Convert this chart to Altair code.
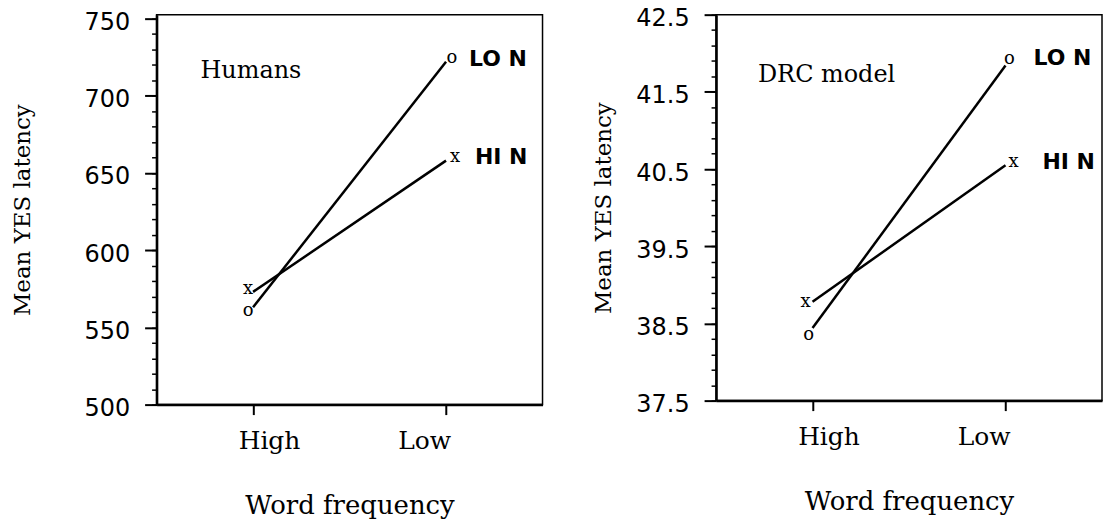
import altair as alt
import pandas as pd

# ---- data ----
freq = ["High", "Low"]
series = ["HI N", "LO N"]
markers = ["x", "o"]

humans_hi = [573, 658]
humans_lo = [563, 722]
drc_hi = [38.78, 40.55]
drc_lo = [38.44, 41.84]

humans_ticks = [500, 550, 600, 650, 700, 750]
humans_minor = list(range(500, 751, 10))
drc_ticks = [37.5, 38.5, 39.5, 40.5, 41.5, 42.5]
drc_minor = [round(37.5 + 0.2 * i, 1) for i in range(26)]

SERIF = "DejaVu Serif"
SANS = "DejaVu Sans"


def make_panel(label, label_xy, hi, lo, domain, ticks, minor, fmt, height,
               title_x, marker_off, label_off):
    df = pd.DataFrame({
        "freq": freq + freq,
        "value": hi + lo,
        "series": [series[0]] * 2 + [series[1]] * 2,
        "marker": [markers[0]] * 2 + [markers[1]] * 2,
    })
    xscale = alt.Scale(type="point", domain=freq, padding=0.5)
    xaxis = alt.Axis(
        orient="bottom", grid=False, domain=True, domainColor="black", domainWidth=2.5,
        ticks=True, tickSize=10, tickWidth=2, tickColor="black",
        labelFont=SERIF, labelFontSize=25, labelColor="black", labelAngle=0,
        labelBaseline="alphabetic", labelPadding=34,
        labelOffset={"condition": {"test": "datum.value == 'High'", "value": 16}, "value": -22},
        title="Word frequency", titleFont=SERIF, titleFontSize=26, titleFontWeight="normal",
        titleColor="black", titleBaseline="alphabetic", titleY=109,
    )
    x = alt.X("freq:N", scale=xscale, axis=xaxis)
    yscale = alt.Scale(domain=domain, nice=False, zero=False)
    yaxis = alt.Axis(
        orient="left", values=ticks, format=fmt, grid=False,
        domain=True, domainColor="black", domainWidth=2.5,
        ticks=True, tickSize=12, tickWidth=2, tickColor="black",
        labelFont=SANS, labelFontSize=24, labelColor="black", labelPadding=15,
        labelOffset=4, labelFlush=False, labelOverlap=False,
        title="Mean YES latency", titleFont=SERIF, titleFontSize=23, titleFontWeight="normal",
        titleColor="black", titleX=title_x, titleBaseline="middle",
    )
    y = alt.Y("value:Q", scale=yscale, axis=yaxis)
    y_na = alt.Y("value:Q", scale=yscale, axis=None)
    y_minor = alt.Y("value:Q", scale=yscale, axis=alt.Axis(
        orient="left", values=minor, labels=False, domain=False, grid=False,
        ticks=True, tickSize=5, tickWidth=1.5, tickColor="black", title=None))

    base = alt.Chart(df)
    layers = [
        base.mark_line(color="black", strokeWidth=2.5).encode(x=x, y=y, detail="series:N"),
        base.mark_point(opacity=0).encode(x=x, y=y_minor),
    ]
    for s in series:
        for f in freq:
            dx, dy = marker_off[(s, f)]
            layers.append(
                base.transform_filter(f"datum.series == '{s}' && datum.freq == '{f}'")
                .mark_text(font=SERIF, fontSize=18, color="black", dx=dx, dy=dy)
                .encode(x=x, y=y_na, text="marker:N")
            )
        dx, dy = label_off[s]
        layers.append(
            base.transform_filter(f"datum.series == '{s}' && datum.freq == 'Low'")
            .mark_text(font=SANS, fontSize=22, fontWeight="bold", color="black",
                       align="left", dx=dx, dy=dy)
            .encode(x=x, y=y_na, text="series:N")
        )
    layers.append(
        alt.Chart(pd.DataFrame({"t": [label]}))
        .mark_text(font=SERIF, fontSize=24, color="black", align="left", baseline="alphabetic")
        .encode(x=alt.value(label_xy[0]), y=alt.value(label_xy[1]), text="t:N")
    )
    return alt.layer(*layers).resolve_axis(y="independent").properties(width=387, height=height)


left = make_panel(
    "Humans", (44, 64), humans_hi, humans_lo, [500, 752.5], humans_ticks, humans_minor, "d", 391,
    -134,
    {("HI N", "High"): (-5, -3), ("LO N", "High"): (-5, 4),
     ("HI N", "Low"): (9, -4), ("LO N", "Low"): (6, -4)},
    {"LO N": (23, -3), "HI N": (29, -4)},
)
right = make_panel(
    "DRC model", (42, 68), drc_hi, drc_lo, [37.5, 42.5], drc_ticks, drc_minor, ".1f", 387,
    -113,
    {("HI N", "High"): (-7, 0), ("LO N", "High"): (-4, 7),
     ("HI N", "Low"): (8, -3), ("LO N", "Low"): (4, -7)},
    {"LO N": (28, -8), "HI N": (37, -3)},
)

chart = (
    alt.hconcat(left, right, spacing=48)
    .properties(padding={"left": 11, "top": 5, "right": 0, "bottom": 0}, background="white")
    .configure_view(stroke="black", strokeWidth=1.5)
)

chart.save("out.html", embed_options={"renderer": "svg", "actions": False})
